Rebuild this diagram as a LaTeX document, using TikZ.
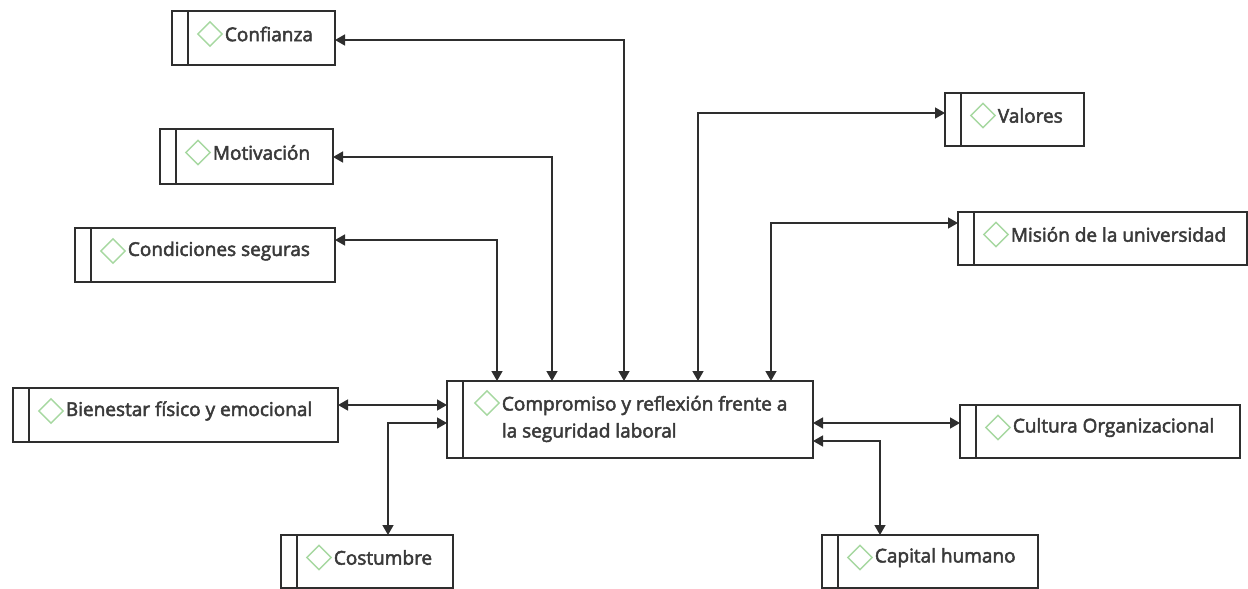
\documentclass[tikz,border=0pt]{standalone}
\usepackage{fontspec}
\setmainfont{Open Sans}
\newfontfamily\lblfont{Open Sans}[FakeBold=2.6]
\usetikzlibrary{shapes.geometric,arrows.meta}
\definecolor{edgegray}{HTML}{2E2E2E}
\definecolor{textgray}{HTML}{3A3A3A}
\definecolor{gemgreen}{HTML}{A6D8A0}
% an entry: name, left x, top y, width, height, label
\newcommand{\entry}[6]{%
  \node[entrybox, minimum width=#4pt, minimum height=#5pt] (#1) at (#2,#3) {};
  \node[gem] (#1-d) at ([xshift=38pt,yshift=4pt]#1.west) {};
  \node[lbl] (#1-t) at ([xshift=1pt]#1-d.east) {#6};
}
\begin{document}
\begin{tikzpicture}[x=1pt,y=-1pt,
  entrybox/.style={draw=edgegray, line width=1.5pt, rectangle, anchor=north west,
    inner sep=0pt, outer sep=0pt, fill=white,
    path picture={\draw[edgegray, line width=1.5pt]
      ([xshift=16pt]path picture bounding box.north west) --
      ([xshift=16pt]path picture bounding box.south west);}},
  gem/.style={diamond, draw=gemgreen, line width=1.4pt, minimum width=25pt,
    minimum height=25pt, inner sep=0pt, aspect=1},
  lbl/.style={anchor=west, inner sep=0.5pt, text=textgray,
    font=\lblfont\fontsize{19}{27}\selectfont},
  conn/.style={draw=edgegray, line width=1.5pt,
    {Triangle[length=10pt,width=11pt]}-{Triangle[length=10pt,width=11pt]}}]
\useasboundingbox (0,0) rectangle (1248,589);

% surrounding factors
\entry{conf}{172}{11}{163}{54}{Confianza}
\entry{moti}{160}{129}{173}{55}{Motivación}
\entry{cond}{75}{228}{260}{54}{Condiciones seguras}
\entry{valo}{945}{93}{139}{53}{Valores}
\entry{misi}{958}{212}{289}{53}{Misión de la universidad}
\entry{bien}{13}{388}{325}{54}{Bienestar físico y emocional}
\entry{cult}{960}{405}{280}{53}{Cultura Organizacional}
\entry{cost}{281}{535}{172}{53}{Costumbre}
\entry{capi}{822}{535}{216}{53}{Capital humano}

% central concept
\node[entrybox, minimum width=366pt, minimum height=77pt] (cen) at (447,381) {};
\node[gem] (cen-d) at (487,403) {};
\node[lbl, align=left] (cen-t) at ([xshift=1pt,yshift=-16pt]cen-d.east)
  {Compromiso y reflexión frente a\\la seguridad laboral};

% connectors
\draw[conn] (conf.east |- 0,40) -| (cen.north -| 624,0);
\draw[conn] (moti.east |- 0,157) -| (cen.north -| 552,0);
\draw[conn] (cond.east |- 0,240) -| (cen.north -| 497,0);
\draw[conn] (valo.west |- 0,113) -| (cen.north -| 698,0);
\draw[conn] (misi.west |- 0,223) -| (cen.north -| 771,0);
\draw[conn] (bien.east |- 0,405) -- (cen.west |- 0,405);
\draw[conn] (cen.west |- 0,423) -| (cost.north -| 388,0);
\draw[conn] (cen.east |- 0,423) -- (cult.west |- 0,423);
\draw[conn] (cen.east |- 0,441) -| (capi.north -| 880,0);
\end{tikzpicture}
\end{document}
